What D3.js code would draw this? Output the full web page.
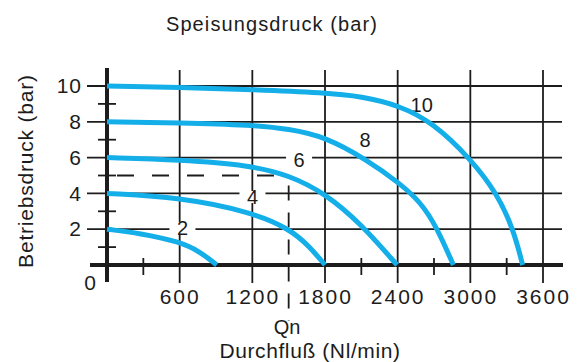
<!DOCTYPE html>
<html><head><meta charset="utf-8">
<script src="https://cdn.jsdelivr.net/npm/d3@7"></script>
<style>
html,body{margin:0;padding:0;background:#fff;}
svg{display:block;font-family:"Liberation Sans",Arial,Helvetica,sans-serif;}
</style></head>
<body>
<svg id="c" width="584" height="362"></svg>
<script>
// ---- data ----
const xTicks = [600, 1200, 1800, 2400, 3000, 3600];
const xMinor = [300, 2100, 2700, 3300];
const yTicks = [2, 4, 6, 8, 10];
const yMinor = [1, 3, 5, 7, 9];
const qnFlow = 1500;
const dashedPressure = 5;
const curveNames = ["2", "4", "6", "8", "10"];
const series2  = [[0,2],[270,1.78],[600,1.3],[770,0.74],[906,0]];
const series4  = [[0,4],[600,3.78],[1180,2.98],[1510,2.02],[1676,1.0],[1800,0]];
const series6  = [[0,6],[600,5.88],[1180,5.58],[1510,5.0],[1800,4.0],[2090,2.35],[2395,0]];
const series8  = [[0,8],[600,7.95],[1200,7.82],[1500,7.6],[1800,7.17],[2140,5.9],[2420,4.55],[2590,3.5],[2720,2.15],[2860,0]];
const series10 = [[0,10],[600,9.93],[1200,9.8],[1800,9.62],[2100,9.42],[2420,8.9],[2690,7.95],[3000,5.95],[3220,4.0],[3355,2.0],[3432,0]];
const labelFlow = [623, 1201, 1586, 2130, 2598];
const labelPressure = [2.07, 3.8, 5.89, 6.98, 8.94];
const title = "Speisungsdruck  (bar)";
const yTitle = "Betriebsdruck  (bar)";
const xTitle = "Durchfluß  (Nl/min)";

const seriesAll = [series2, series4, series6, series8, series10];

const svg = d3.select("#c");
const x = d3.scaleLinear().domain([0, 3600]).range([107, 543]);
const y = d3.scaleLinear().domain([0, 10]).range([265, 86]);
const ink = "#1c1c1c";
const blue = "#14aee9";

// grid
const g = svg.append("g");
g.selectAll("line.vg").data(xTicks).join("line")
  .attr("x1", d => x(d)).attr("x2", d => x(d))
  .attr("y1", 70).attr("y2", 283)
  .attr("stroke", ink).attr("stroke-width", 1.8);
g.selectAll("line.hg").data(yTicks).join("line")
  .attr("x1", 87).attr("x2", 562)
  .attr("y1", d => y(d)).attr("y2", d => y(d))
  .attr("stroke", ink).attr("stroke-width", 1.8);
// minor ticks
g.selectAll("line.ym").data(yMinor).join("line")
  .attr("x1", 98).attr("x2", 116)
  .attr("y1", d => y(d)).attr("y2", d => y(d))
  .attr("stroke", ink).attr("stroke-width", 1.8);
g.selectAll("line.xm").data(xMinor).join("line")
  .attr("x1", d => x(d)).attr("x2", d => x(d))
  .attr("y1", 258).attr("y2", 275)
  .attr("stroke", ink).attr("stroke-width", 1.8);
// dashed lines
g.append("line")
  .attr("x1", x(0) + 10).attr("x2", x(qnFlow))
  .attr("y1", y(dashedPressure)).attr("y2", y(dashedPressure))
  .attr("stroke", ink).attr("stroke-width", 1.8)
  .attr("stroke-dasharray", "17,18");
g.append("line")
  .attr("x1", x(qnFlow)).attr("x2", x(qnFlow))
  .attr("y1", y(dashedPressure) + 10).attr("y2", 321)
  .attr("stroke", ink).attr("stroke-width", 1.8)
  .attr("stroke-dasharray", "15,12");
// axes lines (thick)
g.append("line").attr("x1", x(0)).attr("x2", x(0)).attr("y1", 68).attr("y2", 282)
  .attr("stroke", ink).attr("stroke-width", 4);
g.append("line").attr("x1", 90).attr("x2", 563).attr("y1", y(0)).attr("y2", y(0))
  .attr("stroke", ink).attr("stroke-width", 4);

// tick labels via axes
const xAxis = svg.append("g").attr("transform", `translate(0,${y(0)})`)
  .call(d3.axisBottom(x).tickValues(xTicks).tickSize(0).tickPadding(24).tickFormat(d3.format("d")));
xAxis.select(".domain").remove();
xAxis.selectAll("text").attr("font-size", 21).attr("fill", ink)
  .attr("font-family", "Liberation Sans, Arial, sans-serif").style("letter-spacing", "2px");
const yAxis = svg.append("g").attr("transform", `translate(82,0)`)
  .call(d3.axisLeft(y).tickValues(yTicks).tickSize(0).tickPadding(0).tickFormat(d3.format("d")));
yAxis.select(".domain").remove();
yAxis.selectAll("text").attr("font-size", 21).attr("fill", ink)
  .attr("font-family", "Liberation Sans, Arial, sans-serif").style("letter-spacing", "1px");
svg.append("text").attr("x", 90).attr("y", 290).attr("text-anchor", "middle")
  .attr("font-size", 21).attr("fill", ink).text("0");

// curve label gaps in gridlines (drawn before curves)
const lab = svg.selectAll("g.lab").data(curveNames).join("g")
  .attr("transform", (d, i) => `translate(${x(labelFlow[i])},${y(labelPressure[i])})`);
lab.append("rect")
  .attr("x", d => -(d.length * 6 + 7)).attr("y", -6)
  .attr("width", d => d.length * 12 + 14).attr("height", 12).attr("fill", "#fff");
lab.append("text").attr("text-anchor", "middle").attr("dy", "0.36em")
  .attr("font-size", 20).attr("fill", ink).text(d => d);

// curves
const line = d3.line().x(d => x(d[0])).y(d => y(d[1])).curve(d3.curveBasis);
svg.selectAll("path.curve").data(seriesAll).join("path")
  .attr("d", line).attr("fill", "none").attr("stroke", blue)
  .attr("stroke-width", 5).attr("stroke-linecap", "butt");

// titles
svg.append("text").attr("x", 272).attr("y", 31).attr("text-anchor", "middle")
  .attr("font-size", 20).style("letter-spacing", "1.1px").attr("fill", ink).text(title);
svg.append("text").attr("transform", "translate(33,171) rotate(-90)").attr("text-anchor", "middle")
  .attr("font-size", 21).style("letter-spacing", "0.8px").attr("fill", ink).text(yTitle);
svg.append("text").attr("x", 287).attr("y", 334).attr("text-anchor", "middle")
  .attr("font-size", 20).attr("fill", ink).text("Qn");
svg.append("text").attr("x", 310).attr("y", 358).attr("text-anchor", "middle")
  .attr("font-size", 21).style("letter-spacing", "0.6px").attr("fill", ink).text(xTitle);
</script>
</body></html>
